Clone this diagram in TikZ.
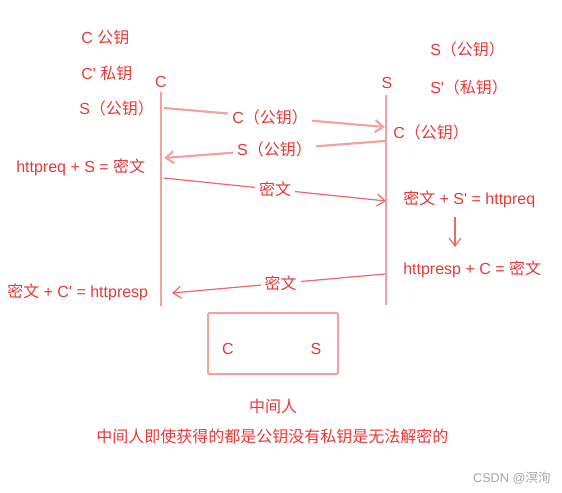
\documentclass[tikz,border=0pt]{standalone}
\usepackage{fontspec}
\setmainfont{Liberation Sans}
\newfontfamily\cjk{Noto Sans CJK SC}
\usetikzlibrary{arrows.meta}
\definecolor{txtred}{RGB}{232,56,56}
\definecolor{linepink}{RGB}{242,160,160}
\definecolor{lined}{RGB}{236,105,105}
\definecolor{wmgray}{RGB}{165,165,165}
\newcommand{\apos}{\textquotesingle}
\begin{document}
\begin{tikzpicture}[x=0.75pt,y=-0.75pt,
 txt/.style={text=txtred,font=\fontsize{12}{14}\selectfont,inner sep=0pt},
 lbl/.style={txt,fill=white,inner sep=3pt},
 life/.style={draw=linepink,line width=1.5pt},
 msg/.style={draw=linepink,line width=1.6pt,-{Straight Barb[length=6pt,width=9pt]}},
 msgthin/.style={draw=lined,line width=0.9pt,-{Straight Barb[length=6pt,width=9pt]}}]
\useasboundingbox (0,0) rectangle (562,493);

% client keys
\node[txt,anchor=west] (ck) at (81,37) {C {\cjk 公钥}};
\node[txt,anchor=west] (cpk) at (81,73) {C\apos{} {\cjk 私钥}};
\node[txt,anchor=west] (csk) at (79,108) {S{\cjk （公钥）}};
% server keys
\node[txt,anchor=west] (sk) at (430,49) {S{\cjk （公钥）}};
\node[txt,anchor=west] (spk) at (430,87) {S\apos{\cjk （私钥）}};

% lifelines
\node[txt] (cname) at (161,82) {C};
\node[txt] (sname) at (387,83) {S};
\coordinate (ctop) at (161,92);
\coordinate (cbot) at (161,306);
\coordinate (stop) at (386,95);
\coordinate (sbot) at (386,305);
\draw[life] (ctop) -- (cbot);
\draw[life] (stop) -- (sbot);

% message endpoints
\coordinate (m1a) at (164,108); \coordinate (m1b) at (385,127);
\coordinate (m2a) at (385,141); \coordinate (m2b) at (164,158);
\coordinate (m3a) at (164,178); \coordinate (m3b) at (386,201);
\coordinate (m4a) at (385,274); \coordinate (m4b) at (172,293);

\draw[msg] (m1a) -- node[lbl,pos=0.48] (l1) {C{\cjk （公钥）}} (m1b);
\draw[msg] (m2a) -- node[lbl,pos=0.5] (l2) {S{\cjk （公钥）}} (m2b);
\draw[msgthin] (m3a) -- node[lbl,pos=0.5] (l3) {\cjk 密文} (m3b);
\draw[msgthin] (m4a) -- node[lbl,pos=0.49] (l4) {\cjk 密文} (m4b);

% side notes
\node[txt,anchor=west] (sck) at (393,132) {C{\cjk （公钥）}};
\node[txt,anchor=west] (enc) at (16,167) {httpreq + S = {\cjk 密文}};
\node[txt,anchor=west] (dec) at (403,199) {{\cjk 密文} + S\apos{} = httpreq};
\node[txt,anchor=west] (resp) at (403,269) {httpresp + C = {\cjk 密文}};
\node[txt,anchor=west] (cres) at (7,292) {{\cjk 密文} + C\apos{} = httpresp};
\coordinate (da) at (455,217);
\coordinate (db) at (455,247);
\draw[msgthin] (da) -- (db);

% man in the middle
\node[draw=linepink,line width=1.5pt,rounded corners=1pt,minimum width=130*0.75pt,minimum height=61*0.75pt,inner sep=0pt] (mitm) at (273,343.5) {};
\node[txt] (mc) at (228,349) {C};
\node[txt] (ms) at (316,349) {S};
\node[txt] (mname) at (273,406) {\cjk 中间人};
\node[txt,anchor=west] (note) at (96,436) {\cjk 中间人即使获得的都是公钥没有私钥是无法解密的};
\node[text=wmgray,font=\fontsize{9.5}{11}\selectfont,inner sep=0pt,anchor=east] (wm) at (551,478) {CSDN @{\cjk 溟洵}};
\end{tikzpicture}
\end{document}
